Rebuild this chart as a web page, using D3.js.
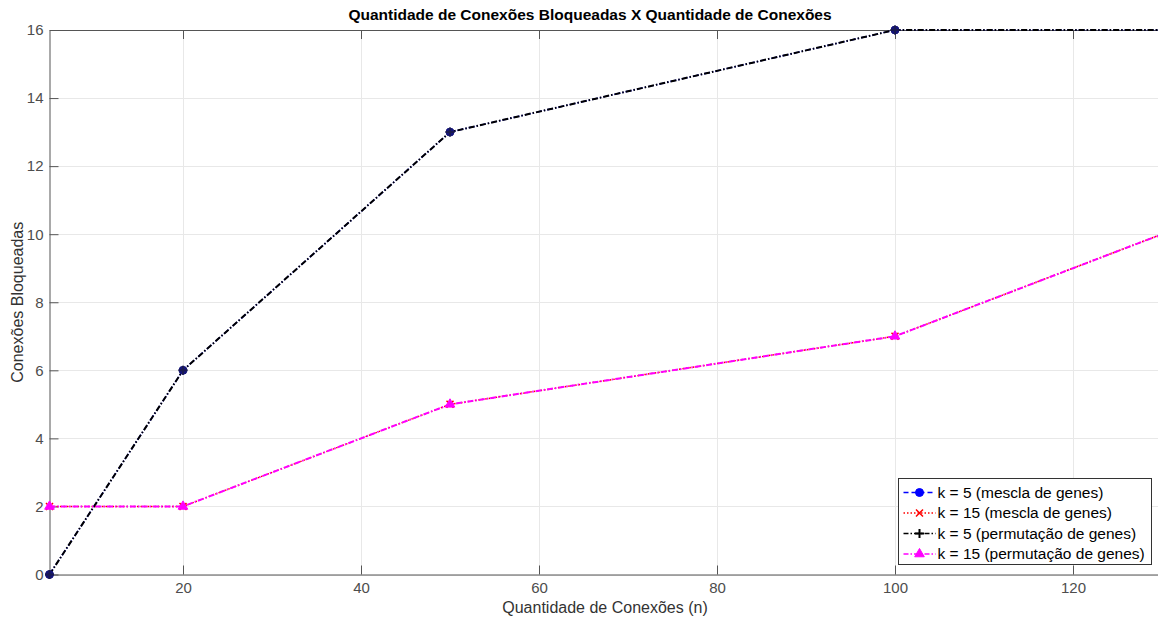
<!DOCTYPE html>
<html>
<head>
<meta charset="utf-8">
<script src="https://cdn.jsdelivr.net/npm/d3@7"></script>
<style>
  html, body { margin: 0; padding: 0; background: #fff; overflow: hidden; }
  svg { display: block; font-family: "Liberation Sans", Arial, Helvetica, sans-serif; }
</style>
</head>
<body>
<svg id="chart" width="1158" height="619"></svg>
<script>
// Number of connections (x) and blocked connections for each configuration
const conexoes = [5, 20, 50, 100, 130];
const k5Mescla = [0, 6, 13, 16, 16];
const k15Mescla = [2, 2, 5, 7, 10];
const k5Permutacao = [0, 6, 13, 16, 16];
const k15Permutacao = [2, 2, 5, 7, 10];
const xTicks = [20, 40, 60, 80, 100, 120];
const yTicks = [0, 2, 4, 6, 8, 10, 12, 14, 16];
const seriesNames = [
  "k = 5 (mescla de genes)",
  "k = 15 (mescla de genes)",
  "k = 5 (permutação de genes)",
  "k = 15 (permutação de genes)"
];

const svg = d3.select("#chart");
const m = { left: 49.5, top: 30, right: 1162, bottom: 574.5 };

const x = d3.scaleLinear().domain([5, 130]).range([m.left, m.right]);
const y = d3.scaleLinear().domain([0, 16]).range([m.bottom, m.top]);

// grid
const grid = svg.append("g");
grid.selectAll(".gx").data(xTicks).join("line")
  .attr("x1", d => Math.round(x(d)) + 0.5).attr("x2", d => Math.round(x(d)) + 0.5)
  .attr("y1", m.top).attr("y2", m.bottom)
  .attr("stroke", "#e8e8e8").attr("stroke-width", 1);
grid.selectAll(".gy").data(yTicks).join("line")
  .attr("y1", d => Math.round(y(d)) + 0.5).attr("y2", d => Math.round(y(d)) + 0.5)
  .attr("x1", m.left).attr("x2", m.right)
  .attr("stroke", "#e8e8e8").attr("stroke-width", 1);

// axes
const axColor = "#555";
const xAxis = svg.append("g").attr("transform", `translate(0,${m.bottom})`)
  .call(d3.axisBottom(x).tickValues(xTicks).tickSize(-9).tickPadding(8).tickSizeOuter(0));
const xTop = svg.append("g").attr("transform", `translate(0,${m.top})`)
  .call(d3.axisTop(x).tickValues(xTicks).tickSize(-9).tickFormat("").tickSizeOuter(0));
const yAxis = svg.append("g").attr("transform", `translate(${m.left},0)`)
  .call(d3.axisLeft(y).tickValues(yTicks).tickSize(-9).tickPadding(6).tickSizeOuter(0));
[xAxis, xTop, yAxis].forEach(g => {
  g.select(".domain").attr("stroke", axColor).attr("stroke-width", 1);
  g.selectAll(".tick line").attr("stroke", axColor);
  g.selectAll(".tick text").attr("fill", "#4d4d4d").style("font-size", "15px")
    .style("font-family", "'Liberation Sans', Arial, sans-serif");
});

// series definitions
const series = [
  { name: seriesNames[0], values: k5Mescla, color: "#0000ff", dash: "6,2,1.5,2", marker: "circle", w: 1.4 },
  { name: seriesNames[1], values: k15Mescla, color: "#ff0000", dash: "1.5,2", marker: "x", w: 1.5 },
  { name: seriesNames[2], values: k5Permutacao, color: "#000000", dash: "6,2,1.5,2", marker: "plus", w: 2 },
  { name: seriesNames[3], values: k15Permutacao, color: "#ff00ff", dash: "6,2,1.5,2", marker: "triangle", w: 2 }
];
const legendDash = ["5,3", "1.5,2", "5,2,1.5,2", "5,2,1.5,2"];

const line = d3.line().x(d => x(d[0])).y(d => y(d[1]));

function drawMarker(g, type, cx, cy, color) {
  if (type === "circle") {
    g.append("circle").attr("cx", cx).attr("cy", cy).attr("r", 4)
      .attr("fill", color).attr("stroke", color);
  } else if (type === "x") {
    const s = 3.5;
    g.append("path").attr("d", `M${cx - s},${cy - s}L${cx + s},${cy + s}M${cx - s},${cy + s}L${cx + s},${cy - s}`)
      .attr("stroke", color).attr("stroke-width", 1.5).attr("fill", "none");
  } else if (type === "plus") {
    const s = 4.5;
    g.append("path").attr("d", `M${cx - s},${cy}L${cx + s},${cy}M${cx},${cy - s}L${cx},${cy + s}`)
      .attr("stroke", color).attr("stroke-width", 2).attr("fill", "none");
  } else if (type === "triangle") {
    g.append("path").attr("d", d3.symbol().type(d3.symbolTriangle).size(40)())
      .attr("transform", `translate(${cx},${cy})`)
      .attr("fill", color).attr("stroke", color);
  }
}

const plot = svg.append("g");
series.forEach(s => {
  const pts = conexoes.map((c, i) => [c, s.values[i]]);
  plot.append("path").datum(pts).attr("d", line)
    .attr("fill", "none").attr("stroke", s.color).attr("stroke-width", s.w)
    .attr("stroke-dasharray", s.dash);
});
// markers on top of the lines
series.forEach(s => {
  const mg = plot.append("g");
  conexoes.forEach((c, i) => drawMarker(mg, s.marker, x(c), y(s.values[i]),
    s.marker === "circle" ? "#14147a" : s.marker === "plus" ? "#1a1a50" : s.color));
});

// title and axis labels
svg.append("text").attr("x", 590).attr("y", 20).attr("text-anchor", "middle")
  .style("font-size", "15.5px").style("font-weight", "bold").attr("fill", "#000")
  .text("Quantidade de Conexões Bloqueadas X Quantidade de Conexões");
svg.append("text").attr("x", 605).attr("y", 613).attr("text-anchor", "middle")
  .style("font-size", "16px").attr("fill", "#333")
  .text("Quantidade de Conexões (n)");
svg.append("text").attr("transform", `translate(23,${(m.top + m.bottom) / 2}) rotate(-90)`)
  .attr("text-anchor", "middle").style("font-size", "16px").attr("fill", "#333")
  .text("Conexões Bloqueadas");

// legend
const lg = svg.append("g").attr("transform", "translate(898.5,478.5)");
lg.append("rect").attr("width", 253).attr("height", 86)
  .attr("fill", "#fff").attr("stroke", "#333").attr("stroke-width", 1);
series.forEach((s, i) => {
  const yy = 14 + i * 20.5;
  lg.append("line").attr("x1", 5).attr("x2", 37).attr("y1", yy).attr("y2", yy)
    .attr("stroke", s.color).attr("stroke-width", 1.6).attr("stroke-dasharray", legendDash[i]);
  drawMarker(lg, s.marker, 21, yy, s.color);
  lg.append("text").attr("x", 39).attr("y", yy).attr("dy", "0.35em")
    .style("font-size", "15.5px").attr("fill", "#000").text(s.name);
});
</script>
</body>
</html>
